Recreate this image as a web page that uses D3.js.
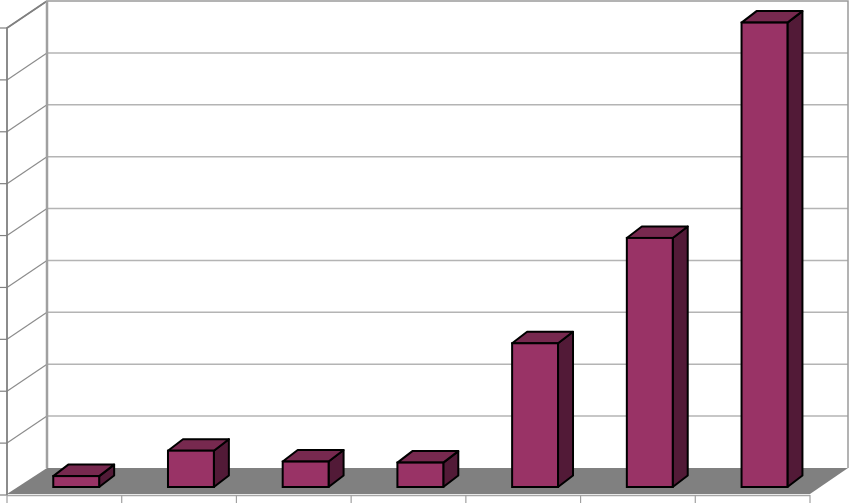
<!DOCTYPE html>
<html>
<head>
<meta charset="utf-8">
<script src="https://cdn.jsdelivr.net/npm/d3@7"></script>
<style>
html,body{margin:0;padding:0;background:#fff;}
svg{display:block;}
</style>
</head>
<body>
<svg id="chart" width="850" height="503"></svg>
<script>
// ---- data ----
const categories = ["1", "2", "3", "4", "5", "6", "7"];
const values = [0.21, 0.70, 0.49, 0.47, 2.77, 4.80, 8.95];
const valueTicks = [0, 1, 2, 3, 4, 5, 6, 7, 8, 9];

// ---- layout ----
const W = 850, H = 503;
const frontLeft = 7, frontRight = 810, frontY = 495;
const depthDX = 40, depthDY = -27;          // floor depth offset
const backTop = 1;
const plotH = (frontY + depthDY) - backTop;  // 467
const barFrontFrac = 8 / 27;                 // bar front face position in depth
const barDX = 15, barDY = -11.5;             // bar depth offset
const barWidthFrac = 0.4;

const svg = d3.select("#chart");

const x = d3.scaleBand().domain(categories).range([frontLeft, frontRight]).padding(0);
const y = d3.scaleLinear().domain([0, 9]).range([0, plotH]);

const backBottom = frontY + depthDY;   // 468
const backLeft = frontLeft + depthDX;  // 47
const backRight = frontRight + depthDX; // 850

// back wall
svg.append("rect")
  .attr("x", backLeft).attr("y", backTop)
  .attr("width", frontRight + depthDX - backLeft - 2).attr("height", backBottom - backTop)
  .attr("fill", "#fff");

// gridlines on back wall
svg.append("g").selectAll("line").data(valueTicks.filter(d => d > 0 && d < 9)).join("line")
  .attr("x1", backLeft).attr("x2", backRight - 2)
  .attr("y1", d => backBottom - y(d)).attr("y2", d => backBottom - y(d))
  .attr("stroke", "#b4b4b4").attr("stroke-width", 1.5);

// gridlines on left wall (diagonals)
svg.append("g").selectAll("line").data(valueTicks.filter(d => d > 0)).join("line")
  .attr("x1", backLeft).attr("y1", d => backBottom - y(d))
  .attr("x2", frontLeft).attr("y2", d => frontY - y(d))
  .attr("stroke", "#8c8c8c").attr("stroke-width", 1.2);

// back wall outline: top and right
svg.append("path")
  .attr("d", `M${backLeft},${backTop}H${backRight - 2}V${backBottom}`)
  .attr("fill", "none").attr("stroke", "#9a9a9a").attr("stroke-width", 1.5);

// left wall outline
svg.append("path")
  .attr("d", `M${frontLeft},${frontY}V${frontY - y(9)}L${backLeft},${backTop}`)
  .attr("fill", "none").attr("stroke", "#808080").attr("stroke-width", 1.8);
svg.append("line")
  .attr("x1", backLeft).attr("x2", backLeft).attr("y1", backTop).attr("y2", backBottom)
  .attr("stroke", "#a0a0a0").attr("stroke-width", 2.5);

// value tick marks on left front edge
svg.append("g").selectAll("line").data(valueTicks).join("line")
  .attr("x1", 0).attr("x2", frontLeft)
  .attr("y1", d => frontY - y(d)).attr("y2", d => frontY - y(d))
  .attr("stroke", "#808080").attr("stroke-width", 1.2);

// floor
svg.append("path")
  .attr("d", `M${frontLeft},${frontY - 1}L${frontRight},${frontY - 1}L${backRight - 2},${backBottom}L${backLeft},${backBottom}Z`)
  .attr("fill", "#808080");
svg.append("line")
  .attr("x1", frontLeft).attr("x2", frontRight).attr("y1", frontY + 0.5).attr("y2", frontY + 0.5)
  .attr("stroke", "#a6a6a6").attr("stroke-width", 1.5);

// category tick marks
const catEdges = categories.map(c => x(c)).concat([frontRight]);
svg.append("g").selectAll("line").data(catEdges).join("line")
  .attr("x1", d => d).attr("x2", d => d)
  .attr("y1", frontY).attr("y2", H)
  .attr("stroke", "#a0a0a0").attr("stroke-width", 1.2);

// bars
const bw = x.bandwidth() * barWidthFrac;
const shiftX = depthDX * barFrontFrac, shiftY = depthDY * barFrontFrac;
const bars = svg.append("g").selectAll("g").data(categories.map((c, i) => ({ c, v: values[i] }))).join("g");

function geom(d) {
  const x0 = x(d.c) + x.bandwidth() / 2 - bw / 2 + shiftX;
  const x1 = x0 + bw;
  const yb = frontY + shiftY;
  const yt = yb - y(d.v);
  return { x0, x1, yb, yt };
}
bars.append("path") // side
  .attr("d", d => { const g = geom(d); return `M${g.x1},${g.yt}L${g.x1 + barDX},${g.yt + barDY}L${g.x1 + barDX},${g.yb + barDY}L${g.x1},${g.yb}Z`; })
  .attr("fill", "#521a37").attr("stroke", "#000").attr("stroke-width", 2).attr("stroke-linejoin", "round");
bars.append("path") // top
  .attr("d", d => { const g = geom(d); return `M${g.x0},${g.yt}L${g.x0 + barDX},${g.yt + barDY}L${g.x1 + barDX},${g.yt + barDY}L${g.x1},${g.yt}Z`; })
  .attr("fill", "#77294f").attr("stroke", "#000").attr("stroke-width", 2).attr("stroke-linejoin", "round");
bars.append("rect") // front
  .attr("x", d => geom(d).x0).attr("y", d => geom(d).yt)
  .attr("width", bw).attr("height", d => y(d.v))
  .attr("fill", "#993366").attr("stroke", "#000").attr("stroke-width", 2);
</script>
</body>
</html>
